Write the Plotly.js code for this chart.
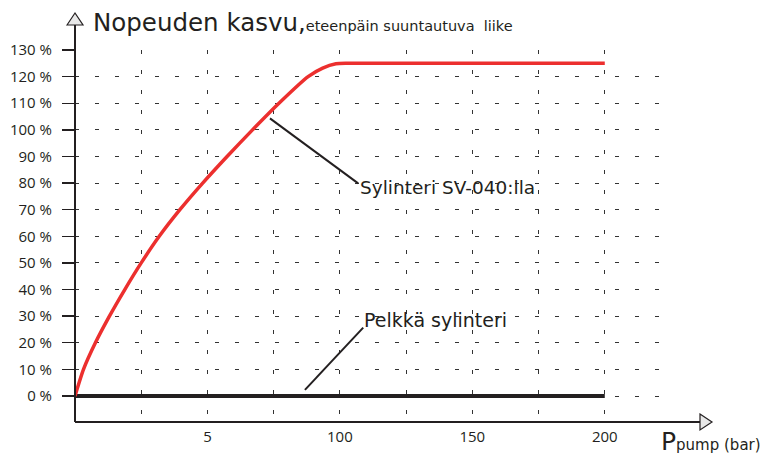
<!DOCTYPE html>
<html>
<head>
<meta charset="utf-8">
<script src="https://cdn.plot.ly/plotly-3.0.1.min.js"></script>
<style>html,body{margin:0;padding:0;background:#fff;}#chart{width:766px;height:455px;}</style>
</head>
<body>
<div id="chart"></div>
<script>
// Data
const pressure = [0, 3.2, 7.7, 13.0, 18.8, 25.0, 31.8, 39.6, 48.2, 57.4, 67.0, 77.0, 88.0, 93.5, 98.5, 103, 200];
const speedSV040 = [0, 10, 20, 30, 40, 50, 60, 70, 80, 90, 100, 110, 120, 123.2, 124.8, 125, 125];
const pressureOnly = [0, 200];
const speedOnly = [0, 0];
const xTickVals = [25, 50, 75, 100, 125, 150, 175, 200, 225];
const xTickText = ["", "5", "", "100", "", "150", "", "200", ""];
const yTickVals = [0, 10, 20, 30, 40, 50, 60, 70, 80, 90, 100, 110, 120, 130];
const yTickText = ["0 %", "10 %", "20 %", "30 %", "40 %", "50 %", "60 %", "70 %", "80 %", "90 %", "100 %", "110 %", "120 %", "130 %"];

const INK = '#231f20';
const L = 75, R = 671, T = 50, B = 422;
const PX = px => (px - L) / (R - L);
const PY = py => (B - py) / (B - T);

const traces = [
  { x: pressureOnly, y: speedOnly, mode: 'lines', line: { color: INK, width: 4 }, hoverinfo: 'skip' },
  { x: pressure, y: speedSV040, mode: 'lines', line: { color: '#ec2f2e', width: 3.5, shape: 'spline', smoothing: 0.6 }, hoverinfo: 'skip' }
];

const shapes = [
  { type: 'line', xref: 'paper', yref: 'paper', x0: 0, y0: 0, x1: 0, y1: PY(25), line: { color: INK, width: 2 } },
  { type: 'line', xref: 'paper', yref: 'paper', x0: 0, y0: 0, x1: PX(700), y1: 0, line: { color: INK, width: 2 } },
  { type: 'path', xref: 'paper', yref: 'paper',
    path: `M ${PX(67)} ${PY(25)} L ${PX(75)} ${PY(13)} L ${PX(83)} ${PY(25)} Z`,
    fillcolor: '#e8e8e8', line: { color: INK, width: 1.2 } },
  { type: 'path', xref: 'paper', yref: 'paper',
    path: `M ${PX(700)} ${PY(414)} L ${PX(712)} ${PY(422)} L ${PX(700)} ${PY(430)} Z`,
    fillcolor: '#e8e8e8', line: { color: INK, width: 1.2 } },
  { type: 'line', xref: 'x', yref: 'y', x0: 73.6, y0: 104.3, x1: 106.9, y1: 79.9, line: { color: INK, width: 2 } },
  { type: 'line', xref: 'x', yref: 'y', x0: 86.8, y0: 2.3, x1: 108.8, y1: 25.7, line: { color: INK, width: 2 } }
];

const tf = 'DejaVu Sans, sans-serif';
const annotations = [
  { xref: 'paper', yref: 'paper', x: PX(91), y: PY(22), xanchor: 'left', yanchor: 'middle', showarrow: false,
    text: 'Nopeuden kasvu,<span style="font-size:14.5px">eteenpäin suuntautuva  liike</span>',
    font: { family: tf, size: 24.5, color: INK } },
  { xref: 'paper', yref: 'paper', x: PX(659), y: PY(441), xanchor: 'left', yanchor: 'middle', showarrow: false,
    text: 'P<span style="font-size:15px">pump (bar)</span>',
    font: { family: tf, size: 25, color: INK } },
  { xref: 'x', yref: 'y', x: 107.0, y: 78.5, xanchor: 'left', yanchor: 'middle', showarrow: false,
    text: 'Sylinteri SV-040:lla', font: { family: tf, size: 18.5, color: INK } },
  { xref: 'x', yref: 'y', x: 108.2, y: 28.6, xanchor: 'left', yanchor: 'middle', showarrow: false,
    text: 'Pelkkä sylinteri', font: { family: tf, size: 19, color: INK } }
];

const layout = {
  width: 766, height: 455,
  margin: { l: L, r: 766 - R, t: T, b: 455 - B, pad: 0 },
  paper_bgcolor: '#fff', plot_bgcolor: '#fff',
  showlegend: false,
  xaxis: {
    range: [0, 225], tickmode: 'array', tickvals: xTickVals, ticktext: xTickText,
    showgrid: true, gridcolor: '#333', gridwidth: 1, griddash: '4px,16px',
    zeroline: false, showline: false, ticks: '', ticklabelstandoff: 4,
    tickfont: { family: 'Open Sans, sans-serif', size: 15, color: INK }, fixedrange: true
  },
  yaxis: {
    range: [-9.77, 130], tickmode: 'array', tickvals: yTickVals, ticktext: yTickText,
    showgrid: true, gridcolor: '#333', gridwidth: 1, griddash: '4px,16px',
    zeroline: false, showline: false, ticks: 'outside', ticklen: 12, tickwidth: 1.3, tickcolor: INK,
    ticklabelstandoff: 7,
    tickfont: { family: 'Open Sans, sans-serif', size: 15, color: INK }, fixedrange: true
  },
  shapes: shapes,
  annotations: annotations
};

Plotly.newPlot('chart', traces, layout, { staticPlot: true, displayModeBar: false });
</script>
</body>
</html>
